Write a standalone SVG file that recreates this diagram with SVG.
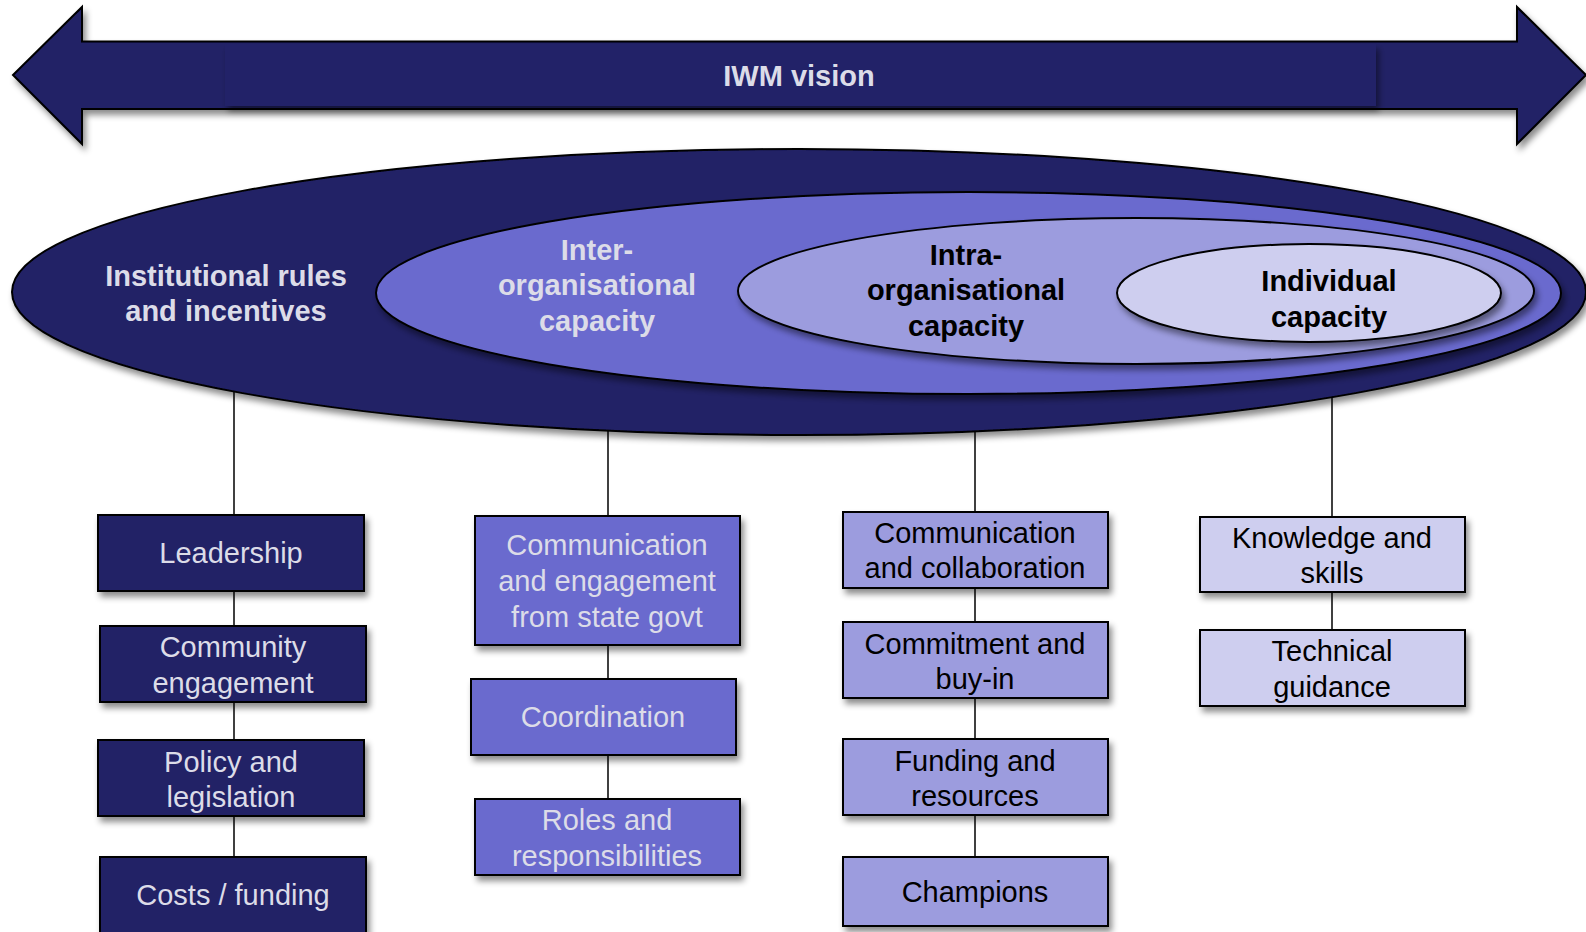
<svg xmlns="http://www.w3.org/2000/svg" width="1586" height="932" viewBox="0 0 1586 932">
<defs>
<filter id="sh" x="-10%" y="-10%" width="125%" height="140%">
<feDropShadow dx="3" dy="5" stdDeviation="3" flood-color="#000" flood-opacity="0.45"/>
</filter>
<style>
.t{font-family:"Liberation Sans",Arial,sans-serif;font-size:29px;text-anchor:middle}
.b{font-weight:bold}
.lt{fill:#DCDCE8}
.dk{fill:#000}
.c1{fill:#222266;stroke:#000;stroke-width:2}
.c2{fill:#6B6BCE;stroke:#000;stroke-width:2}
.c3{fill:#9C9CDE;stroke:#000;stroke-width:2}
.c4{fill:#CECEEF;stroke:#000;stroke-width:2}
.ln{stroke:#000;stroke-width:1.5;fill:none}
</style>
</defs>
<rect width="1586" height="932" fill="#fff"/>
<g id="arrow">
<polygon filter="url(#sh)" class="c1" points="13,75 82,7 82,41.5 1517,41.5 1517,7 1586,75 1517,144 1517,109 82,109 82,144"/>
<rect x="225" y="44" width="1151" height="62" fill="#222268" filter="url(#sh)"/>
<text class="t b lt" x="799" y="86">IWM vision</text>
</g>
<g id="connectors">
<line class="ln" x1="234" y1="388" x2="234" y2="857"/>
<line class="ln" x1="608" y1="428" x2="608" y2="799"/>
<line class="ln" x1="975" y1="428" x2="975" y2="857"/>
<line class="ln" x1="1332" y1="396" x2="1332" y2="630"/>
</g>
<g id="institutional">
<ellipse class="c1" filter="url(#sh)" cx="799" cy="292" rx="787" ry="143"/>
<text class="t b lt" x="226" y="286">Institutional rules</text>
<text class="t b lt" x="226" y="321">and incentives</text>
</g>
<g id="inter">
<ellipse class="c2" filter="url(#sh)" cx="968.5" cy="293" rx="592.5" ry="101"/>
<text class="t b lt" x="597" y="260">Inter-</text>
<text class="t b lt" x="597" y="295">organisational</text>
<text class="t b lt" x="597" y="331">capacity</text>
</g>
<g id="intra">
<ellipse class="c3" filter="url(#sh)" cx="1136" cy="291" rx="398" ry="73"/>
<text class="t b dk" x="966" y="265">Intra-</text>
<text class="t b dk" x="966" y="300">organisational</text>
<text class="t b dk" x="966" y="336">capacity</text>
</g>
<g id="individual">
<ellipse class="c4" filter="url(#sh)" cx="1309" cy="293" rx="192" ry="49"/>
<text class="t b dk" x="1329" y="291">Individual</text>
<text class="t b dk" x="1329" y="327">capacity</text>
</g>
<g id="leadership">
<rect class="c1" filter="url(#sh)" x="98" y="515" width="266" height="76"/>
<text class="t lt" x="231" y="563">Leadership</text>
</g>
<g id="community">
<rect class="c1" filter="url(#sh)" x="100" y="626" width="266" height="76"/>
<text class="t lt" x="233" y="657">Community</text>
<text class="t lt" x="233" y="693">engagement</text>
</g>
<g id="policy">
<rect class="c1" filter="url(#sh)" x="98" y="740" width="266" height="76"/>
<text class="t lt" x="231" y="772">Policy and</text>
<text class="t lt" x="231" y="807">legislation</text>
</g>
<g id="costs">
<rect class="c1" filter="url(#sh)" x="100" y="857" width="266" height="90"/>
<text class="t lt" x="233" y="905">Costs / funding</text>
</g>
<g id="commstate">
<rect class="c2" filter="url(#sh)" x="475" y="516" width="265" height="129"/>
<text class="t lt" x="607" y="555">Communication</text>
<text class="t lt" x="607" y="591">and engagement</text>
<text class="t lt" x="607" y="627">from state govt</text>
</g>
<g id="coordination">
<rect class="c2" filter="url(#sh)" x="471" y="679" width="265" height="76"/>
<text class="t lt" x="603" y="727">Coordination</text>
</g>
<g id="roles">
<rect class="c2" filter="url(#sh)" x="475" y="799" width="265" height="76"/>
<text class="t lt" x="607" y="830">Roles and</text>
<text class="t lt" x="607" y="866">responsibilities</text>
</g>
<g id="commcollab">
<rect class="c3" filter="url(#sh)" x="843" y="512" width="265" height="76"/>
<text class="t dk" x="975" y="543">Communication</text>
<text class="t dk" x="975" y="578">and collaboration</text>
</g>
<g id="commitment">
<rect class="c3" filter="url(#sh)" x="843" y="622" width="265" height="76"/>
<text class="t dk" x="975" y="654">Commitment and</text>
<text class="t dk" x="975" y="689">buy-in</text>
</g>
<g id="funding">
<rect class="c3" filter="url(#sh)" x="843" y="739" width="265" height="76"/>
<text class="t dk" x="975" y="771">Funding and</text>
<text class="t dk" x="975" y="806">resources</text>
</g>
<g id="champions">
<rect class="c3" filter="url(#sh)" x="843" y="857" width="265" height="69"/>
<text class="t dk" x="975" y="902">Champions</text>
</g>
<g id="knowledge">
<rect class="c4" filter="url(#sh)" x="1200" y="517" width="265" height="75"/>
<text class="t dk" x="1332" y="548">Knowledge and</text>
<text class="t dk" x="1332" y="583">skills</text>
</g>
<g id="technical">
<rect class="c4" filter="url(#sh)" x="1200" y="630" width="265" height="76"/>
<text class="t dk" x="1332" y="661">Technical</text>
<text class="t dk" x="1332" y="697">guidance</text>
</g>
</svg>
